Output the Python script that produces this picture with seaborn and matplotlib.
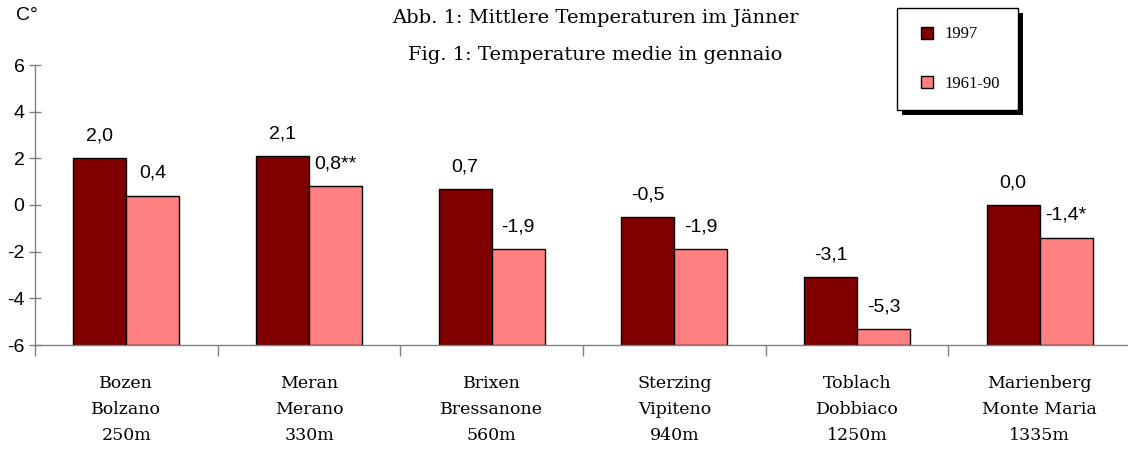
import matplotlib
matplotlib.use("Agg")
import matplotlib.pyplot as plt
from matplotlib.lines import Line2D
from matplotlib.patches import Rectangle
import seaborn as sns
import pandas as pd
import numpy as np

stations = ["Bozen\nBolzano\n250m", "Meran\nMerano\n330m", "Brixen\nBressanone\n560m",
            "Sterzing\nVipiteno\n940m", "Toblach\nDobbiaco\n1250m", "Marienberg\nMonte Maria\n1335m"]
temp_1997 = [2.0, 2.1, 0.7, -0.5, -3.1, 0.0]
temp_6190 = [0.4, 0.8, -1.9, -1.9, -5.3, -1.4]
labels_1997 = ["2,0", "2,1", "0,7", "-0,5", "-3,1", "0,0"]
labels_6190 = ["0,4", "0,8**", "-1,9", "-1,9", "-5,3", "-1,4*"]
series = ["1997", "1961-90"]
colors = ["#800000", "#FF8080"]
y_min, y_max = -6, 6

df = pd.DataFrame({
    "station": stations * 2,
    "series": [series[0]] * 6 + [series[1]] * 6,
    "temp": temp_1997 + temp_6190,
})
# bars grow from the bottom of the axis, like the original
df["h"] = df["temp"] - y_min

sns.set_style("white")
plt.rcParams.update({"text.color": "black", "xtick.labelcolor": "black",
                     "ytick.labelcolor": "black"})
serif = ["DejaVu Serif"]
serif2 = ["Liberation Serif", "DejaVu Serif"]
sans = ["Liberation Sans", "DejaVu Sans"]

fig = plt.figure(figsize=(11.28, 4.55), dpi=100)
ax = fig.add_axes([35 / 1128, 110 / 455, 1096 / 1128, 280 / 455])

sns.barplot(data=df, x="station", y="h", hue="series", hue_order=series,
            palette=colors, width=0.58, bottom=y_min, edgecolor="black",
            linewidth=1, saturation=1, legend=False, ax=ax)

ax.set_xlim(-0.5, 5.5)
ax.set_ylim(y_min, y_max)
ax.set_xlabel("")
ax.set_ylabel("")

for i in range(6):
    ax.text(i - 0.145, temp_1997[i] + 0.95, labels_1997[i], ha="center", va="center",
            fontsize=14, family=sans, color="black")
    ax.text(i + 0.145, temp_6190[i] + 0.95, labels_6190[i], ha="center", va="center",
            fontsize=14, family=sans, color="black")

for s in ["top", "right"]:
    ax.spines[s].set_visible(False)
for s in ["left", "bottom"]:
    ax.spines[s].set_color("#808080")
    ax.spines[s].set_linewidth(1)

ax.set_yticks(range(-6, 7, 2))
ax.set_yticklabels([str(v) for v in range(-6, 7, 2)], family=sans, fontsize=14)
ax.tick_params(axis="y", left=True, direction="inout", length=9, width=1,
               color="#808080", labelcolor="black", pad=3)

ax.set_xticks(range(6))
ax.set_xticklabels(stations, family=serif, fontsize=12.5, linespacing=1.69)
ax.set_xticks(np.arange(-0.5, 6, 1), minor=True)
ax.tick_params(axis="x", which="major", bottom=True, length=0, pad=21.5,
               labelcolor="black")
ax.tick_params(axis="x", which="minor", bottom=True, direction="out", length=8,
               width=1, color="#808080")

fig.text(27 / 1128, 1 - 16 / 455, "C°", ha="center", va="center", fontsize=14,
         family=sans, color="black")
fig.text(595 / 1128, 1 - 18 / 455, "Abb. 1: Mittlere Temperaturen im Jänner",
         ha="center", va="center", fontsize=14, family=serif, color="black")
fig.text(595 / 1128, 1 - 55 / 455, "Fig. 1: Temperature medie in gennaio",
         ha="center", va="center", fontsize=14, family=serif, color="black")

handles = [Line2D([], [], linestyle="none", marker="s", markersize=8,
                  markerfacecolor=c, markeredgecolor="black", markeredgewidth=1)
           for c in colors]
leg = fig.legend(handles, series, loc="upper left", bbox_to_anchor=(897 / 1128, 1 - 8 / 455),
                 frameon=True, fancybox=False, shadow=False, edgecolor="black",
                 framealpha=1, handlelength=1.4, labelspacing=2.0,
                 borderpad=1.1, handletextpad=0.35, borderaxespad=0,
                 prop={"family": serif2, "size": 12})
leg.get_frame().set_linewidth(1)
leg.set_zorder(5)

# solid black drop shadow behind the legend box
fig.canvas.draw()
bb = leg.get_frame().get_window_extent().transformed(fig.transFigure.inverted())
dx, dy = 5 / 1128, 5 / 455
fig.patches.append(Rectangle((bb.x0 + dx, bb.y0 - dy), bb.width, bb.height,
                             transform=fig.transFigure, facecolor="black",
                             edgecolor="none", zorder=4))

fig.savefig("out.png", dpi=100)
